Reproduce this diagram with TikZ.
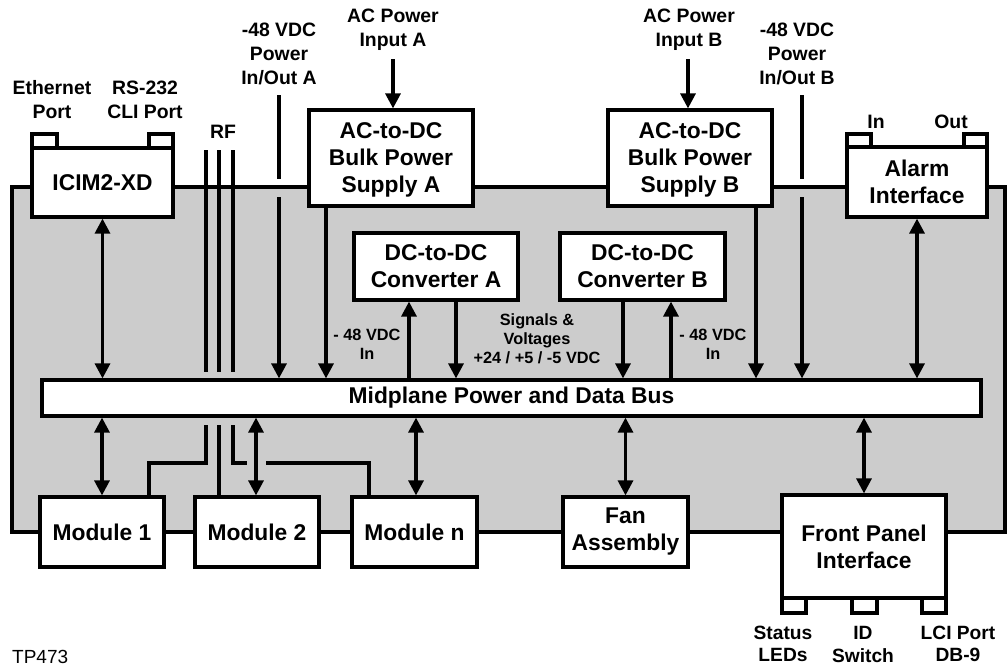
\documentclass[tikz,border=0pt]{standalone}
\usepackage{fontspec}
\setmainfont{Liberation Sans}
\usetikzlibrary{arrows.meta}
\definecolor{chassisgrey}{HTML}{CCCCCC}
\newcommand\dgBoxFont{\fontsize{22.8}{27}\selectfont\bfseries}
\newcommand\dgLblFont{\fontsize{19.4}{24}\selectfont\bfseries}
\newcommand\dgBotFont{\fontsize{19.2}{22.5}\selectfont\bfseries}
\newcommand\dgMidFont{\fontsize{16.3}{18.8}\selectfont\bfseries}
\begin{document}
\begin{tikzpicture}[x=1pt,y=-1pt,
  wire/.style={line width=3.2pt},
  box/.style={draw, line width=3.2pt, fill=white, align=center, inner sep=0pt, font=\dgBoxFont},
  tabbox/.style={draw, line width=3.2pt, fill=white, inner sep=0pt},
  lbl/.style={align=center, inner sep=0pt, font=\dgLblFont},
  botlbl/.style={align=center, inner sep=0pt, font=\dgBotFont},
  midlbl/.style={align=center, inner sep=0pt, font=\dgMidFont},
  arr/.style={line width=3.2pt, -{Triangle[length=15pt,width=15pt]}},
  darr/.style={line width=3.2pt, {Triangle[length=15pt,width=15pt]}-{Triangle[length=15pt,width=15pt]}}]
\useasboundingbox (0,0) rectangle (1007,667);

% chassis
\node[draw, line width=3.2pt, fill=chassisgrey, minimum width=993, minimum height=345, inner sep=0pt] (chassis) at (508.5,359.5) {};

% tabs
\node[tabbox, minimum width=25, minimum height=14] (ethtab) at (44.5,141) {};
\node[tabbox, minimum width=24, minimum height=14] (rstab) at (161,141) {};
\node[tabbox, minimum width=24, minimum height=13] (intab) at (859,140.5) {};
\node[tabbox, minimum width=23, minimum height=13] (outtab) at (975.5,140.5) {};
\node[tabbox, minimum width=24, minimum height=15] (sttab) at (794,605.5) {};
\node[tabbox, minimum width=25, minimum height=15] (idtab) at (864.5,605.5) {};
\node[tabbox, minimum width=24, minimum height=15] (lcitab) at (934,605.5) {};

% boxes
\node[box, minimum width=141, minimum height=69] (icim) at (102.5,182.5) {ICIM2-XD};
\node[box, minimum width=164, minimum height=96] (bulkA) at (391,158) {\rule{0pt}{20.5pt}AC-to-DC\\Bulk Power\\Supply A};
\node[box, minimum width=164, minimum height=96] (bulkB) at (690,158) {\rule{0pt}{20.5pt}AC-to-DC\\Bulk Power\\Supply B};
\node[box, minimum width=140, minimum height=70] (alarm) at (917,182) {Alarm\\Interface};
\node[box, minimum width=164, minimum height=67] (convA) at (436,266.5) {DC-to-DC\\Converter A};
\node[box, minimum width=165, minimum height=67] (convB) at (642.5,266.5) {DC-to-DC\\Converter B};
\node[box, minimum width=939, minimum height=36] (mid) at (511.5,398) {Midplane Power and Data Bus};
\node[box, minimum width=124, minimum height=70] (mod1) at (102,532) {Module 1};
\node[box, minimum width=124, minimum height=70] (mod2) at (257,532) {Module 2};
\node[box, minimum width=125, minimum height=70] (modn) at (414.5,532) {Module n};
\node[box, minimum width=125, minimum height=70] (fan) at (625.5,532) {Fan\\Assembly};
\node[box, minimum width=164, minimum height=103] (front) at (864,546.5) {Front Panel\\Interface};

% labels
\node[lbl] (ethlbl) at (52,100) {Ethernet\\Port};
\node[lbl] (rslbl) at (145,100) {RS-232\\CLI Port};
\node[lbl] (rflbl) at (223,132) {RF};
\node[lbl] (p48Albl) at (279,53.5) {-48 VDC\\Power\\In/Out A};
\node[lbl] (acAlbl) at (393,30) {AC Power\\Input A};
\node[lbl] (acBlbl) at (689,30) {AC Power\\Input B};
\node[lbl] (p48Blbl) at (797,53.5) {-48 VDC\\Power\\In/Out B};
\node[lbl] (inlbl) at (876,122) {In};
\node[lbl] (outlbl) at (951,122) {Out};
\node[midlbl] (inAlbl) at (367,344) {- 48 VDC\\In};
\node[midlbl] (inBlbl) at (713,344) {- 48 VDC\\In};
\node[midlbl] (siglbl) at (537,339) {Signals \&\\Voltages\\+24 / +5 / -5 VDC};
\node[botlbl] (stlbl) at (783,644) {Status\\LEDs};
\node[botlbl] (idlbl) at (863,644.5) {ID\\Switch};
\node[botlbl] (lcilbl) at (958,644) {LCI Port\\DB-9};
\node[anchor=west, inner sep=0pt, font=\fontsize{19}{22}\selectfont] (tp) at (12,657) {TP473};

% AC inputs
\coordinate (acAtop) at (393,59);
\coordinate (acBtop) at (688,59);
\draw[arr] (acAtop) -- (acAtop |- bulkA.north);
\draw[arr] (acBtop) -- (acBtop |- bulkB.north);

% -48 VDC power in/out lines (interrupted at chassis edge)
\coordinate (pa1) at (279,95); \coordinate (pa2) at (279,179); \coordinate (pa3) at (279,197);
\coordinate (pb1) at (802,95); \coordinate (pb2) at (802,179); \coordinate (pb3) at (802,197);
\draw[wire] (pa1) -- (pa2);
\draw[arr] (pa3) -- (pa3 |- mid.north);
\draw[wire] (pb1) -- (pb2);
\draw[arr] (pb3) -- (pb3 |- mid.north);

% bulk supplies to midplane
\draw[arr] (326,0 |- bulkA.south) -- (326,0 |- mid.north);
\draw[arr] (756,0 |- bulkB.south) -- (756,0 |- mid.north);

% converters
\draw[arr] (409,0 |- mid.north) -- (409,0 |- convA.south);
\draw[arr] (456,0 |- convA.south) -- (456,0 |- mid.north);
\draw[arr] (623,0 |- convB.south) -- (623,0 |- mid.north);
\draw[arr] (671,0 |- mid.north) -- (671,0 |- convB.south);

% ICIM and alarm
\draw[darr] (icim.south) -- (icim.south |- mid.north);
\draw[darr] (alarm.south) -- (alarm.south |- mid.north);

% below midplane
\draw[darr] (mid.south -| mod1.north) -- (mod1.north);
\draw[darr] (mid.south -| 256,0) -- (256,0 |- mod2.north);
\draw[darr] (mid.south -| 416,0) -- (416,0 |- modn.north);
\draw[darr] (mid.south -| fan.north) -- (fan.north);
\draw[darr] (mid.south -| front.north) -- (front.north);

% RF lines
\coordinate (rf1t) at (206,150); \coordinate (rf1b) at (206,372);
\coordinate (rf2t) at (219,150); \coordinate (rf2b) at (219,372);
\coordinate (rf3t) at (233,150); \coordinate (rf3b) at (233,372);
\draw[wire] (rf1t) -- (rf1b);
\draw[wire] (rf2t) -- (rf2b);
\draw[wire] (rf3t) -- (rf3b);
\coordinate (rl1) at (206,425); \coordinate (rl2) at (219,425); \coordinate (rl3) at (233,425);
\draw[wire, line join=miter] (rl1) -- (206,463) -- (149,463) -- (149,0 |- mod1.north);
\draw[wire] (rl2) -- (219,0 |- mod2.north);
\draw[wire, line join=miter] (rl3) -- (233,463) -- (247,463);
\draw[wire, line join=miter] (266,463) -- (369,463) -- (369,0 |- modn.north);
\end{tikzpicture}
\end{document}
